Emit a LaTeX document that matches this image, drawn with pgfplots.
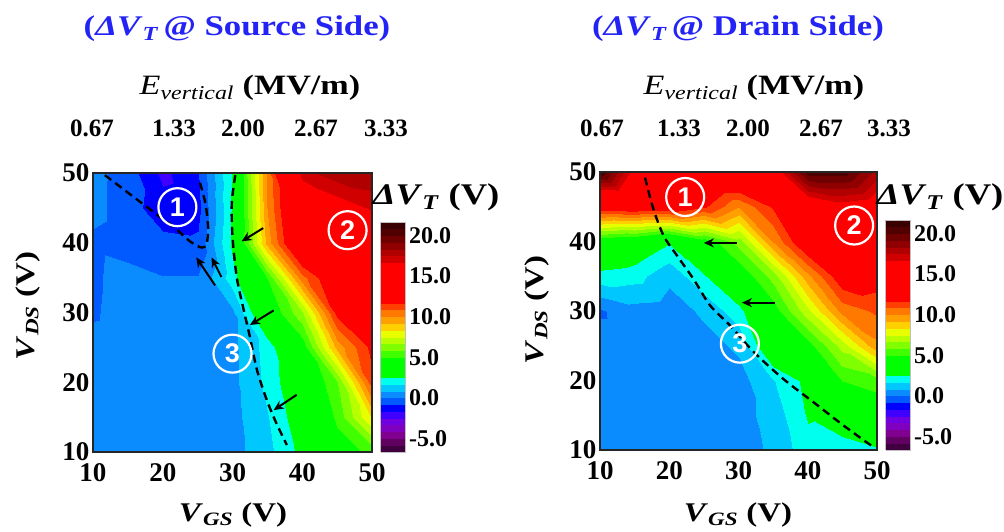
\documentclass[border=0pt]{standalone}
\usepackage{pgfplots}
\pgfplotsset{compat=1.18}
\usepackage{pgfplotstable}
\usetikzlibrary{arrows.meta}
\usepackage{fontspec}
\setmainfont{Liberation Serif}
\newfontfamily\widefont{Liberation Serif}[FakeStretch=1.22]
\newfontfamily\circfont{Liberation Sans}
\definecolor{ttl}{RGB}{35,35,245}
\newcommand\ticks{\fontsize{27}{27}\selectfont\bfseries}
\newcommand\cbticks{\fontsize{24}{24}\selectfont\bfseries}
\newcommand\topnum{\fontsize{25}{25}\selectfont\bfseries}
\newcommand\lab{\widefont\bfseries\fontsize{27}{30}\selectfont}
\newcommand\ttlfont{\widefont\bfseries\fontsize{28.5}{30}\selectfont}
\newcommand\circnum{\circfont\bfseries\fontsize{27}{27}\selectfont}

\pgfplotsset{colormap={dvt}{
rgb255=(64,0,64) rgb255=(96,0,96) rgb255=(128,0,144) rgb255=(128,0,192)
rgb255=(112,0,224) rgb255=(64,0,255) rgb255=(0,0,255) rgb255=(0,90,255)
rgb255=(10,140,255) rgb255=(0,200,255) rgb255=(0,255,238)
rgb255=(0,255,0) rgb255=(0,255,0) rgb255=(0,255,0)
rgb255=(64,255,0) rgb255=(128,255,0) rgb255=(184,255,0) rgb255=(232,255,0)
rgb255=(255,208,0) rgb255=(255,160,0) rgb255=(255,120,0) rgb255=(255,64,0)
rgb255=(255,0,0) rgb255=(255,0,0) rgb255=(255,0,0) rgb255=(255,0,0)
rgb255=(255,0,0) rgb255=(255,0,0)
rgb255=(208,0,0) rgb255=(176,0,0) rgb255=(144,0,0) rgb255=(112,0,0)
rgb255=(80,0,0) rgb255=(56,0,0)}}

\pgfplotstableread{
x y z
10 10 0.4
15 10 0.4
20 10 0.4
25 10 0.4
30 10 0.5
35 10 1.4
40 10 2.8
45 10 4.5
50 10 5.2
10 15 0.4
15 15 0.4
20 15 0.4
25 15 0.4
30 15 0.55
35 15 1.6
40 15 3.2
45 15 5.2
50 15 8.5
10 20 0.4
15 20 0.4
20 20 0.4
25 20 0.4
30 20 0.6
35 20 1.9
40 20 3.6
45 20 5.8
50 20 11.4
10 25 0.3
15 25 0.4
20 25 0.4
25 25 0.4
30 25 0.6
35 25 2.0
40 25 4.4
45 25 9.5
50 25 12.0
10 30 -0.1
15 30 0.4
20 30 0.4
25 30 0.4
30 30 0.6
35 30 4.0
40 30 6.5
45 30 12.0
50 30 12.5
10 35 -0.15
15 35 0.4
20 35 0.05
25 35 0.05
30 35 2.1
35 35 5.0
40 35 10.5
45 35 13.0
50 35 13.5
10 40 -0.2
15 40 -0.5
20 40 -0.6
25 40 -0.7
30 40 2.7
35 40 9.5
40 40 14.0
45 40 14.5
50 40 15.0
10 45 0.3
15 45 -0.5
20 45 -1.3
25 45 -1.1
30 45 2.6
35 45 10.0
40 45 14.5
45 45 16.0
50 45 16.8
10 50 0.3
15 50 -0.4
20 50 -1.9
25 50 -0.9
30 50 2.6
35 50 10.2
40 50 17.2
45 50 18.0
50 50 18.2
}\srctab

\pgfplotstableread{
x y z
10 10 0.4
15 10 0.4
20 10 0.4
25 10 0.4
30 10 0.45
35 10 1.0
40 10 2.2
45 10 2.0
50 10 2.4
10 15 0.4
15 15 0.4
20 15 0.4
25 15 0.4
30 15 0.5
35 15 1.2
40 15 2.6
45 15 3.3
50 15 4.0
10 20 0.4
15 20 0.4
20 20 0.4
25 20 0.4
30 20 0.5
35 20 1.6
40 20 2.8
45 20 5.0
50 20 5.5
10 25 0.4
15 25 0.4
20 25 0.4
25 25 0.5
30 25 1.0
35 25 3.8
40 25 4.6
45 25 7.0
50 25 9.8
10 30 -0.1
15 30 0.5
20 30 0.4
25 30 1.0
30 30 2.2
35 30 4.5
40 30 7.3
45 30 10.3
50 30 11.0
10 35 2.2
15 35 2.0
20 35 1.05
25 35 2.4
30 35 4.2
35 35 6.2
40 35 9.8
45 35 12.5
50 35 12.2
10 40 4.0
15 40 3.5
20 40 2.6
25 40 4.3
30 40 6.2
35 40 10.0
40 40 13.0
45 40 14.0
50 40 14.0
10 45 12.5
15 45 12.8
20 45 12.8
25 45 11.8
30 45 10.0
35 45 11.8
40 45 15.0
45 45 16.0
50 45 15.5
10 50 20.8
15 50 16.0
20 50 14.5
25 50 14.0
30 50 14.0
35 50 15.5
40 50 20.5
45 50 20.5
50 50 18.0
}\drntab

\tikzset{cnum/.style={circle, draw=white, line width=2.2pt, minimum size=38pt, inner sep=0pt, text=white, font=\circnum}}

\pgfplotsset{
  panel/.style={
    anchor=south west, scale only axis, width=279pt, height=279pt,
    xmin=10, xmax=50, ymin=10, ymax=50,
    xtick={10,20,30,40,50}, ytick={10,20,30,40,50},
    major tick length=0pt, axis on top,
    axis line style={line width=1.2pt, black!85},
    ticklabel style={font=\ticks},
    xticklabel style={yshift=-8pt},
    /pgf/number format/assume math mode=true,
    colormap name=dvt, colormap access=piecewise constant,
    point meta min=-6.6667, point meta max=21.6667,
    colorbar,
    colorbar style={
      at={(parent axis.south east)}, anchor=south west, xshift=0pt,
      scale only axis, width=25pt, height=230pt,
      ytick={-5,0,5,10,15,20}, major tick length=0pt,
      axis line style={draw=gray!50, line width=0.6pt},
      yticklabel style={font=\cbticks, /pgf/number format/.cd, fixed, fixed zerofill, precision=1, assume math mode=true}
    },
  },
  dcurve/.style={black, line width=2.4pt, dash pattern=on 8pt off 5pt, smooth, no markers},
  arr/.style={black, line width=2pt, -{Stealth[length=10pt,width=9pt]}, no markers},
}

\begin{document}
\begin{tikzpicture}[x=1pt,y=1pt]
\path[use as bounding box] (0,0) rectangle (1004,531);

\begin{axis}[panel, at={(93pt,79pt)}]
\addplot[surf, shader=interp, mesh/cols=9, point meta=explicit] table[x=x, y=y, meta=z] {\srctab};
\addplot[dcurve] coordinates {(11.7,49.7) (16.7,45.9) (21.5,42.3) (23.9,40.2) (25.6,39.3) (26.3,39.9) (26.5,42.3) (26.1,45.7) (25.2,49.1)};
\addplot[dcurve] coordinates {(30.4,49.7) (29.9,45.7) (30.0,40.9) (30.6,35.1) (31.6,30.4) (32.5,26.5) (33.5,21.8) (34.9,17.5) (36.3,14.1) (37.8,11.0)};
\addplot[arr] coordinates {(34.4,42.1) (31.3,40.2)};
\addplot[arr] coordinates {(35.9,30.3) (32.5,28.2)};
\addplot[arr] coordinates {(39.2,18.2) (35.9,16.0)};
\addplot[arr] coordinates {(27.5,33.9) (24.8,37.9)};
\addplot[arr] coordinates {(28.4,35.1) (27.0,37.9)};
\node[cnum] at (axis cs:22.1,45.1) {1};
\node[cnum] at (axis cs:46.5,41.8) {2};
\node[cnum] at (axis cs:30.0,24.1) {3};
\end{axis}

\begin{axis}[panel, at={(600pt,81pt)}, width=277pt, height=278pt]
\addplot[surf, shader=interp, mesh/cols=9, point meta=explicit] table[x=x, y=y, meta=z] {\drntab};
\addplot[dcurve] coordinates {(16.5,49.2) (17.7,44.7) (19.2,40.8) (21.1,38.0) (23.5,34.6) (25.9,30.8) (28.8,27.9) (32.2,24.1) (36.5,20.2) (40.8,16.9) (45.2,13.5) (49.5,10.4)};
\addplot[arr] coordinates {(29.8,39.8) (25.0,39.8)};
\addplot[arr] coordinates {(35.3,31.2) (30.5,31.2)};
\node[cnum] at (axis cs:22.3,46.4) {1};
\node[cnum] at (axis cs:46.7,42.3) {2};
\node[cnum] at (axis cs:30.2,25.3) {3};
\end{axis}

% titles
\node[font=\ttlfont, text=ttl] at (237,502) {(\textit{ΔV}\textsubscript{\textit{T}}\,@ Source Side)};
\node[font=\ttlfont, text=ttl] at (738,502) {(\textit{ΔV}\textsubscript{\textit{T}}\,@ Drain Side)};
% E vertical
\node[font=\widefont\fontsize{28}{30}\selectfont] at (250,443) {\textit{E}\textsubscript{\textit{vertical}}\ \textbf{(MV/m)}};
\node[font=\widefont\fontsize{28}{30}\selectfont] at (754,443) {\textit{E}\textsubscript{\textit{vertical}}\ \textbf{(MV/m)}};
% top numbers
\foreach \xx/\tt in {92/0.67,174/1.33,243/2.00,316/2.67,386/3.33} {\node[font=\topnum] at (\xx,403) {\tt};}
\foreach \xx/\tt in {602/0.67,679/1.33,748/2.00,821/2.67,889/3.33} {\node[font=\topnum] at (\xx,403) {\tt};}
% axis labels
\node[rotate=90, font=\lab] at (28,225) {\textit{V}\textsubscript{\textit{DS}} (V)};
\node[rotate=90, font=\lab] at (537,221) {\textit{V}\textsubscript{\textit{DS}} (V)};
\node[font=\lab] at (233,16) {\textit{V}\textsubscript{\textit{GS}} (V)};
\node[font=\lab] at (738,16) {\textit{V}\textsubscript{\textit{GS}} (V)};
% colorbar titles
\node[font=\widefont\bfseries\fontsize{30}{30}\selectfont] at (436,334) {\textit{ΔV}\textsubscript{\textit{T}} (V)};
\node[font=\widefont\bfseries\fontsize{30}{30}\selectfont] at (940,334) {\textit{ΔV}\textsubscript{\textit{T}} (V)};
\end{tikzpicture}
\end{document}
